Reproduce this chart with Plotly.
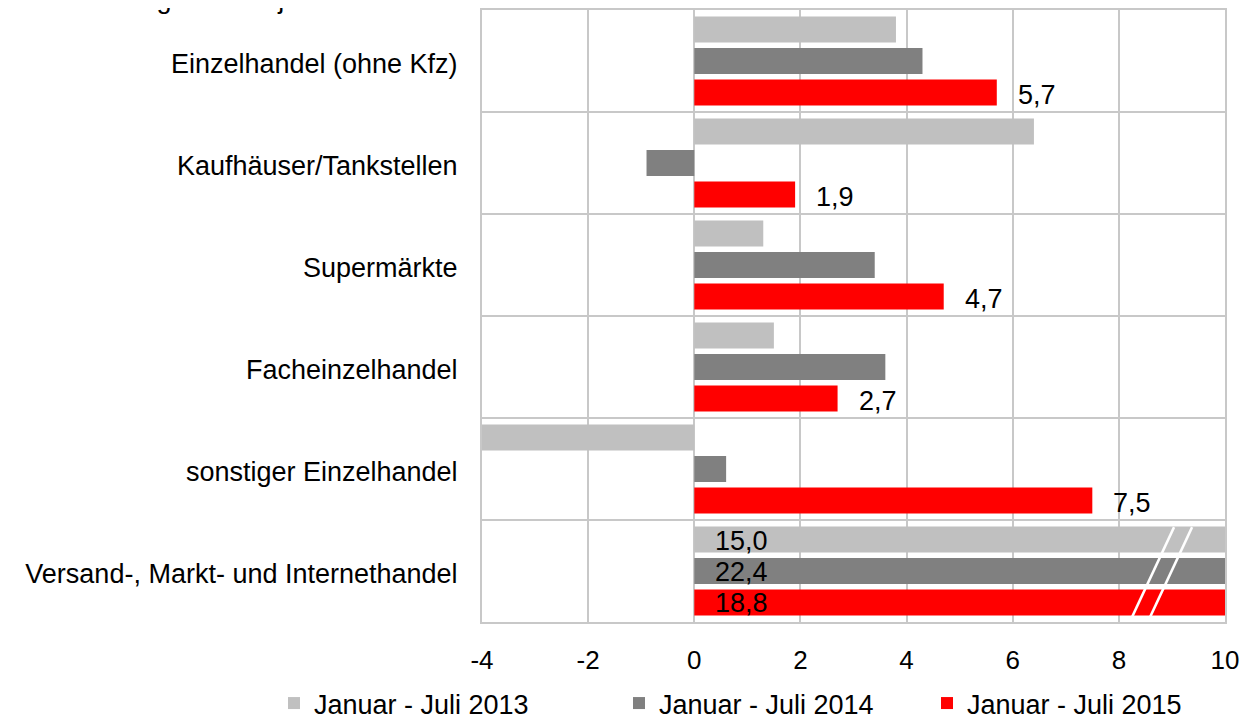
import plotly.graph_objects as go

categories = [
    "Einzelhandel (ohne Kfz)",
    "Kaufhäuser/Tankstellen",
    "Supermärkte",
    "Facheinzelhandel",
    "sonstiger Einzelhandel",
    "Versand-, Markt- und Internethandel",
]
series_names = ["Januar - Juli 2013", "Januar - Juli 2014", "Januar - Juli 2015"]
v2013 = [3.8, 6.4, 1.3, 1.5, -4.5, 15.0]
v2014 = [4.3, -0.9, 3.4, 3.6, 0.6, 22.4]
v2015 = [5.7, 1.9, 4.7, 2.7, 7.5, 18.8]
x_ticks = [-4, -2, 0, 2, 4, 6, 8, 10]
top_text = "Veränderung zum Vorjahreszeitraum in %"

colors = ["#c0c0c0", "#808080", "#ff0000"]
FONT = "Liberation Sans, Arial, sans-serif"
GRID = "#c8c8c8"
BARGAP = 0.074
ML, MR, MT, MB = 474, 40, 2, 106
PW = 1257 - ML - MR

fig = go.Figure()
legend_ids = ["legend", "legend2", "legend3"]
for name, vals, col, lg in zip(series_names, [v2013, v2014, v2015], colors, legend_ids):
    fig.add_trace(go.Bar(
        y=categories, x=vals, name=name, orientation="h",
        marker=dict(color=col, line=dict(width=0)),
        cliponaxis=True, legend=lg,
    ))

slot = (1 - BARGAP) / 3
annotations = []
for i, v in enumerate(v2015[:-1]):
    annotations.append(dict(
        x=v, y=i + slot, xref="x", yref="y", text=f"{v:.1f}".replace(".", ","),
        showarrow=False, xanchor="left", yanchor="middle", xshift=19, yshift=-3,
        font=dict(family=FONT, size=27, color="#000000"),
    ))
last = len(categories) - 1
for k, vals in enumerate([v2013, v2014, v2015]):
    annotations.append(dict(
        x=0, y=last + (k - 1) * slot, xref="x", yref="y",
        text=f"{vals[last]:.1f}".replace(".", ","),
        showarrow=False, xanchor="left", yanchor="middle", xshift=19, yshift=-1,
        font=dict(family=FONT, size=27, color="#000000"),
    ))
annotations.append(dict(
    x=(7 - ML) / PW, y=1, xref="paper", yref="paper", text=top_text,
    showarrow=False, xanchor="left", yanchor="middle", yshift=11,
    font=dict(family=FONT, size=27, color="#000000"),
))

shapes = []
for (x0, x1) in [(8.25, 9.04), (8.59, 9.38)]:
    shapes.append(dict(type="line", xref="x", yref="y", x0=x0, x1=x1,
                       y0=last + 0.45, y1=last - 0.43,
                       line=dict(color="white", width=2.5), layer="above"))

def legend_at(px):
    return dict(
        orientation="h", xref="container", yref="container",
        x=px / 1257, xanchor="left", y=-0.008, yanchor="bottom",
        font=dict(family=FONT, size=27, color="#000000"),
        itemwidth=30, bgcolor="rgba(0,0,0,0)",
    )

fig.update_layout(
    template="none",
    width=1257, height=720,
    margin=dict(l=ML, r=MR, t=MT, b=MB, autoexpand=False),
    paper_bgcolor="white", plot_bgcolor="white",
    barmode="group", bargap=BARGAP, bargroupgap=0.175,
    font=dict(family=FONT, size=27, color="#000000"),
    showlegend=True,
    legend=legend_at(266),
    legend2=legend_at(611),
    legend3=legend_at(919),
    annotations=annotations,
    shapes=shapes,
)
fig.update_xaxes(
    range=[-4, 10], tickvals=x_ticks, ticktext=[str(t) for t in x_ticks],
    showgrid=True, gridcolor=GRID, gridwidth=2,
    showline=True, linecolor=GRID, linewidth=2, mirror=True,
    zeroline=False, ticks="", tickfont=dict(family=FONT, size=26, color="#000000"),
    ticklabelstandoff=14, automargin=False,
)
fig.update_yaxes(
    autorange="reversed", type="category",
    tickson="boundaries", showgrid=True, gridcolor=GRID, gridwidth=2,
    showline=True, linecolor=GRID, linewidth=2, mirror=True, zeroline=False,
    ticks="", tickfont=dict(family=FONT, size=27, color="#000000"),
    ticklabelstandoff=17, ticklabelshift=-3, automargin=False,
)

fig.write_html("out.html")
